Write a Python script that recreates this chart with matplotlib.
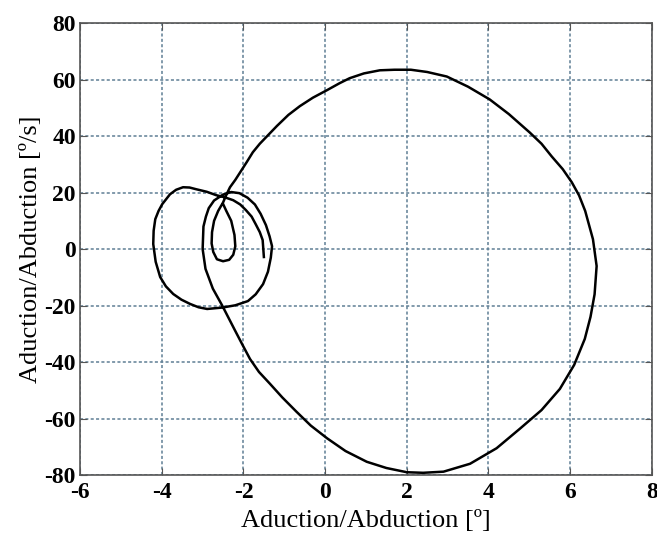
import matplotlib
matplotlib.use("Agg")
import matplotlib.pyplot as plt

plt.rcParams["axes.unicode_minus"] = False

# angle [deg] and angular velocity [deg/s], in time order
angle = [-2.5, -2.42, -2.3, -2.22, -2.2, -2.25, -2.35, -2.5, -2.65, -2.74,
         -2.78, -2.77, -2.72, -2.62, -2.5, -2.42,
         -2.33, -2.2, -2.08, -1.92, -1.77, -1.6, -1.42, -1.18, -0.9, -0.62,
         -0.3, 0.05, 0.35, 0.6, 0.95, 1.34, 1.7, 2.1, 2.5, 2.98, 3.5, 4.03,
         4.5, 5.01, 5.3, 5.55, 5.82, 6.04, 6.22, 6.37, 6.56, 6.65, 6.6, 6.5,
         6.36, 6.1, 5.75, 5.3, 4.77, 4.2, 3.55, 2.9, 2.4, 2.0, 1.5, 1.02, 0.5,
         0.05, -0.35, -0.7, -1.05, -1.35, -1.62, -1.84, -2.02, -2.2, -2.36,
         -2.52, -2.75, -2.93,
         -3.0, -2.99, -2.98, -2.92, -2.85, -2.72, -2.5, -2.3, -2.1, -1.9,
         -1.72, -1.58, -1.45, -1.36, -1.3,
         -1.33, -1.4, -1.52, -1.7, -1.89, -2.2, -2.52, -2.89, -3.1, -3.31,
         -3.52, -3.72, -3.9, -4.04, -4.15, -4.21, -4.2, -4.16, -4.08, -3.99,
         -3.8, -3.65, -3.48, -3.32, -3.16, -2.9, -2.67, -2.45, -2.25, -2.08,
         -1.94, -1.8, -1.7, -1.6, -1.53, -1.5]
velocity = [16, 13.5, 10, 5, 1, -2, -3.8, -4.3, -3.6, -1,
            2, 6, 10, 13.5, 16.5, 19.2,
            21.9, 24.5, 27.2, 30.8, 34.3, 37.3, 40, 43.6, 47.5, 50.6,
            53.6, 56.3, 58.7, 60.5, 62.2, 63.3, 63.5, 63.5, 62.7, 61.1, 57.5, 53,
            47.8, 41.3, 37.3, 32.8, 28.3, 23.7, 19, 13.5, 3.5, -6, -16, -24,
            -31.8, -41, -49.5, -57, -63.6, -70.5, -76, -78.8, -79.2, -79, -77.5, -75.3, -71.5,
            -67, -62.5, -57.6, -52.5, -47.7, -43.5, -38.9, -34, -29, -24.5,
            -20, -14, -7,
            0, 4, 8, 11.5, 14.5, 17.2, 19.3, 20.2, 19.8, 18.2,
            15.8, 12.5, 8.5, 4.5, 1,
            -3, -8, -12.4, -16, -18.4, -19.9, -20.7, -21.2, -20.6, -19.4,
            -17.9, -15.9, -13.2, -9.9, -4.5, 1.8, 6.5, 10.6, 13.5, 15.9,
            19.4, 21, 21.9, 21.8, 21.2, 20.3, 19.1, 18.3, 17.3, 15.8,
            13.8, 11.5, 8.8, 6, 3.2, -2.8]

xticks = [-6, -4, -2, 0, 2, 4, 6, 8]
yticks = [-80, -60, -40, -20, 0, 20, 40, 60, 80]

fig = plt.figure(figsize=(6.57, 5.38), dpi=100)
ax = fig.add_axes([0.122, 0.117, 0.870, 0.840])

ax.plot(angle, velocity, color="black", linewidth=1.8, solid_joinstyle="round")

ax.set_xlim(-6, 8)
ax.set_ylim(-80, 80)
ax.set_xticks(xticks)
ax.set_yticks(yticks)
ax.grid(True, color="#5f7f95", linestyle=(0, (2, 1.5)), linewidth=1.1)
ax.tick_params(direction="in", length=5, top=True, right=True, color="#555555")
ax.tick_params(axis="x", pad=5)
ax.tick_params(axis="y", pad=3)
for lab in ax.get_xticklabels() + ax.get_yticklabels():
    lab.set_family("Liberation Serif")
    lab.set_fontweight("bold")
    lab.set_fontsize(17)
for s in ax.spines.values():
    s.set_color("#555555")
    s.set_linewidth(1.2)

ax.set_xlabel("Aduction/Abduction [º]", family="Liberation Serif", fontsize=19, labelpad=5)
ax.set_ylabel("Aduction/Abduction [º/s]", family="Liberation Serif", fontsize=19, labelpad=2)

fig.savefig("out.png", dpi=100)
